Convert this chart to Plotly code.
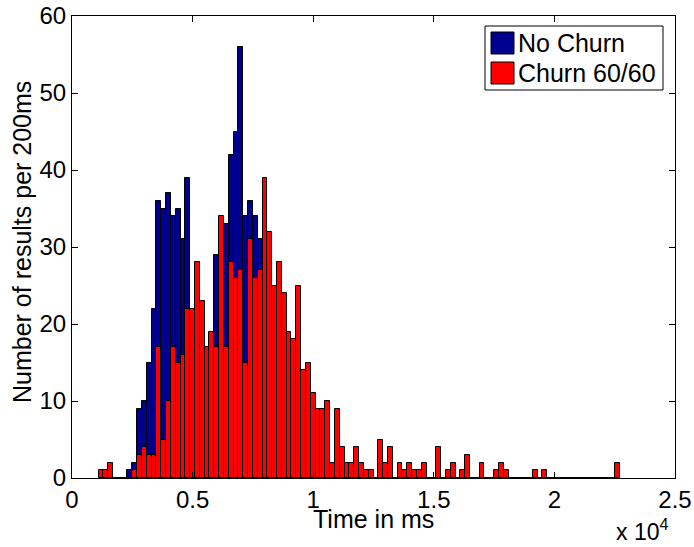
import plotly.graph_objects as go

# bin centers in ms (200 ms bins)
bin_width = 200
no_churn_bins = list(range(12, 51))
no_churn_counts = [1, 2, 9, 10, 15, 22, 36, 35, 37, 34, 35, 31, 39,
                   21, 25, 20, 16, 14, 29, 30, 33, 42, 45, 56, 34, 36, 34, 31,
                   28, 24, 20, 15, 10, 6, 4, 3, 2, 1, 1]

churn_bins = list(range(6, 114))
churn_counts = [1, 1, 2, 0, 0, 0, 0, 1, 3, 4, 3, 3, 17, 5, 10, 17, 15, 16, 22,
                22, 28, 23, 17, 19, 17, 34, 17, 28, 26, 27, 15, 31, 26, 27, 39,
                32, 25, 28, 24, 19, 18, 25, 14, 15, 11, 9, 9, 10, 2, 9, 4, 2, 2,
                4, 2, 1, 1, 0, 5, 2, 4, 0, 2, 1, 2, 1, 1, 2, 0, 0, 4, 0, 1, 2, 0,
                1, 3, 0, 0, 2, 0, 0, 1, 2, 1, 0, 0, 0, 0, 0, 1, 0, 1,
                0, 0, 0, 0, 0, 0, 0, 0, 0, 0, 0, 0, 0, 0, 2]

x_ticks = [0, 5000, 10000, 15000, 20000, 25000]
x_tick_labels = ["0", "0.5", "1", "1.5", "2", "2.5"]
y_ticks = [0, 10, 20, 30, 40, 50, 60]

series_names = ["No Churn", "Churn 60/60"]
blue = "#00008F"
red = "#FF0000"

FONT = "Liberation Sans, Arial, Helvetica, sans-serif"
FS_TICK = 24
FS_TEXT = 25

fig = go.Figure()
fig.add_trace(go.Bar(
    x=[b * bin_width for b in no_churn_bins], y=no_churn_counts,
    width=bin_width, marker=dict(color=blue, line=dict(color="black", width=1)),
    name=series_names[0], showlegend=False))
fig.add_trace(go.Bar(
    x=[b * bin_width for b in churn_bins], y=churn_counts,
    width=bin_width, marker=dict(color=red, line=dict(color="black", width=1)),
    name=series_names[1], showlegend=False))

fig.update_layout(
    width=694, height=547, autosize=False,
    margin=dict(l=72, r=19, t=16, b=69),
    paper_bgcolor="white", plot_bgcolor="white",
    barmode="overlay", bargap=0,
    font=dict(family=FONT, size=FS_TEXT, color="black"),
    showlegend=False,
)
fig.update_xaxes(range=[0, 25000], tickvals=x_ticks, ticktext=x_tick_labels,
                 ticks="inside", ticklen=6, tickcolor="black", showline=True,
                 linecolor="black", linewidth=1, mirror="ticks", showgrid=False,
                 zeroline=False, tickfont=dict(size=FS_TICK), automargin=False)
fig.update_yaxes(range=[0, 60], tickvals=y_ticks, ticks="inside", ticklen=6,
                 tickcolor="black", showline=True, linecolor="black", linewidth=1,
                 mirror="ticks", showgrid=False, zeroline=False,
                 tickfont=dict(size=FS_TICK), automargin=False)

def px_x(p):
    return (p - 72) / 603

def px_y(p):
    return (478 - p) / 462

# axis titles
fig.add_annotation(text="Time in ms", xref="paper", yref="paper",
                   x=px_x(373), y=px_y(519), xanchor="center",
                   yanchor="middle", showarrow=False, font=dict(size=FS_TEXT))
fig.add_annotation(text="Number of results per 200ms", xref="paper", yref="paper",
                   x=px_x(22), y=px_y(242), xanchor="center",
                   yanchor="middle", textangle=-90, showarrow=False,
                   font=dict(size=FS_TEXT))
fig.add_annotation(text="x 10<sup>4</sup>", xref="paper", yref="paper",
                   x=px_x(614), y=px_y(530), xanchor="left",
                   yanchor="middle", showarrow=False, font=dict(size=23))

# custom legend
fig.add_shape(type="rect", xref="paper", yref="paper",
              x0=px_x(485), x1=px_x(663), y0=px_y(90), y1=px_y(26),
              line=dict(color="black", width=1), fillcolor="white")
for i, (name, col) in enumerate(zip(series_names, [blue, red])):
    top = 32 + i * 30
    fig.add_shape(type="rect", xref="paper", yref="paper",
                  x0=px_x(491), x1=px_x(514), y0=px_y(top + 22), y1=px_y(top),
                  line=dict(color="black", width=1), fillcolor=col)
    fig.add_annotation(text=name, xref="paper", yref="paper",
                       x=px_x(516), y=px_y(top + 11), xanchor="left",
                       yanchor="middle", showarrow=False, font=dict(size=FS_TEXT))

fig.write_html("out.html")
